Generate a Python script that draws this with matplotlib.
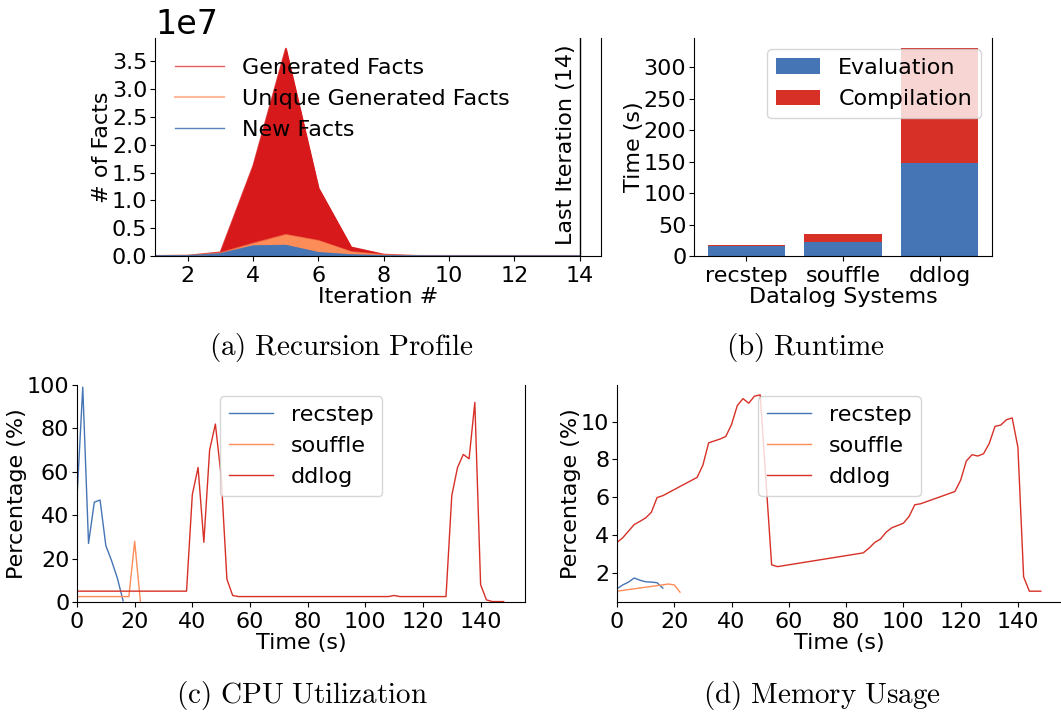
import matplotlib
matplotlib.use("Agg")
import matplotlib.pyplot as plt
from matplotlib.ticker import MultipleLocator

plt.rcParams['mathtext.fontset'] = 'cm'
plt.rcParams['font.size'] = 16
plt.rcParams['ytick.major.pad'] = 2

# (a) recursion profile
iters = [1, 2, 3, 4, 5, 6, 7, 8, 9, 10, 11, 12, 13, 14]
generated = [0.004, 0.01, 0.07, 1.62, 3.73, 1.22, 0.16, 0.03, 0.005, 0.004, 0.003, 0.003, 0.003, 0.003]
unique = [0.003, 0.006, 0.05, 0.22, 0.377, 0.27, 0.07, 0.015, 0.003, 0.002, 0.002, 0.002, 0.002, 0.002]
new = [0.003, 0.005, 0.04, 0.18, 0.19, 0.06, 0.02, 0.005, 0.002, 0.001, 0.001, 0.001, 0.001, 0.001]
last_iter = 14

# (b) runtime
systems = ['recstep', 'souffle', 'ddlog']
evaluation = [16, 22, 148]
compilation = [2, 13, 182]

# (c) cpu utilization
cpu_recstep_t = [0, 2, 4, 6, 8, 10, 12, 14, 16]
cpu_recstep = [48, 99, 27, 46, 47, 26, 19, 11, 0.5]
cpu_souffle_t = [0, 18, 20, 22]
cpu_souffle = [2.5, 2.5, 28, 0]
cpu_ddlog_t = [0, 38, 40, 42, 44, 46, 48, 50, 52, 54, 56, 108, 110, 112, 128,
               130, 132, 134, 136, 138, 140, 142, 144, 146, 148]
cpu_ddlog = [5, 5, 49.5, 62, 27.5, 70, 82, 58, 10.5, 3, 2.5, 2.5, 3.0, 2.5, 2.5,
             49, 62, 68, 66, 92, 8, 1, 0.2, 0.2, 0.2]

# (d) memory usage
mem_recstep_t = [0, 2, 4, 6, 8, 10, 12, 14, 16]
mem_recstep = [1.15, 1.35, 1.5, 1.72, 1.6, 1.52, 1.5, 1.47, 1.18]
mem_souffle_t = [0, 18, 20, 22]
mem_souffle = [1.02, 1.4, 1.35, 0.97]
mem_ddlog_t = [0, 2, 4, 6, 8, 10, 12, 14, 16, 28, 30, 32, 34, 36, 38, 40, 42, 44, 46, 48, 50,
               54, 56, 86, 88, 90, 92, 94, 96, 98, 100, 102, 104, 106, 118, 120, 122, 124,
               126, 128, 130, 132, 134, 136, 138, 140, 142, 144, 146, 148]
mem_ddlog = [3.6, 3.85, 4.2, 4.55, 4.72, 4.9, 5.2, 5.98, 6.08, 7.05, 7.7, 8.88, 8.98, 9.08,
             9.22, 9.85, 10.85, 11.22, 10.98, 11.35, 11.42, 2.42, 2.32, 3.05, 3.3, 3.6, 3.78,
             4.15, 4.38, 4.5, 4.62, 4.98, 5.6, 5.65, 6.3, 6.9, 7.92, 8.25, 8.18, 8.3, 8.85,
             9.75, 9.82, 10.1, 10.2, 8.65, 1.78, 1.02, 1.02, 1.02]

BLUE = '#4575b4'
ORANGE = '#fc8d59'
RED = '#d7191c'
RED2 = '#d73027'

W, H = 1061, 713
fig = plt.figure(figsize=(W / 100, H / 100), dpi=100)


def box(x0, x1, y0, y1):
    return [x0 / W, 1 - y1 / H, (x1 - x0) / W, (y1 - y0) / H]


def style(ax, xstep, ystep):
    ax.spines['top'].set_visible(False)
    ax.xaxis.set_major_locator(MultipleLocator(xstep))
    ax.yaxis.set_major_locator(MultipleLocator(ystep))


# (a)
ax = fig.add_axes(box(155, 601, 38, 256))
s = [v * 1e7 for v in generated]
u = [v * 1e7 for v in unique]
n = [v * 1e7 for v in new]
ax.plot(iters, s, color=RED, alpha=0.7, lw=1, label='Generated Facts')
ax.plot(iters, u, color=ORANGE, alpha=0.6, lw=1.5, label='Unique Generated Facts')
ax.plot(iters, n, color=BLUE, alpha=0.9, lw=1, label='New Facts')
ax.fill_between(iters, s, color=RED)
ax.fill_between(iters, u, color=ORANGE)
ax.fill_between(iters, n, color=BLUE)
ax.axvline(last_iter, color='black', lw=1)
ax.text(last_iter - 0.12, 0.51, 'Last Iteration (%d)' % last_iter, rotation=90,
        ha='right', va='center', transform=ax.get_xaxis_transform())
ax.set_xlim(1, 14.65)
ax.set_ylim(0, None)
style(ax, 2, 0.5e7)
ax.yaxis.get_offset_text().set_fontsize(24)
ax.set_xlabel('Iteration #', labelpad=1)
ax.set_ylabel('# of Facts', labelpad=0)
ax.legend(loc='upper left', frameon=False, handlelength=2.2, borderaxespad=0.5)

# (b)
ax = fig.add_axes(box(694, 992, 38, 256))
ax.bar(systems, evaluation, width=0.8, color=BLUE, label='Evaluation')
ax.bar(systems, compilation, width=0.8, bottom=evaluation, color=RED2, label='Compilation')
style(ax, 1, 50)
ax.set_xlabel('Datalog Systems', labelpad=1)
ax.set_ylabel('Time (s)', labelpad=0)
ax.legend(loc='upper right')

# (c)
ax = fig.add_axes(box(77, 525, 385, 602))
ax.plot(cpu_recstep_t, cpu_recstep, color=BLUE, lw=1, label='recstep')
ax.plot(cpu_souffle_t, cpu_souffle, color=ORANGE, lw=1, label='souffle')
ax.plot(cpu_ddlog_t, cpu_ddlog, color=RED2, lw=1, label='ddlog')
ax.set_xlim(0, None)
ax.set_ylim(0, 100)
style(ax, 20, 20)
ax.set_xlabel('Time (s)', labelpad=1)
ax.set_ylabel('Percentage (%)', labelpad=0)
ax.legend(loc='upper center')

# (d)
ax = fig.add_axes(box(617, 1062, 385, 602))
ax.plot(mem_recstep_t, mem_recstep, color=BLUE, lw=1, label='recstep')
ax.plot(mem_souffle_t, mem_souffle, color=ORANGE, lw=1, label='souffle')
ax.plot(mem_ddlog_t, mem_ddlog, color=RED2, lw=1, label='ddlog')
ax.set_xlim(0, None)
style(ax, 20, 2)
ax.set_xlabel('Time (s)', labelpad=1)
ax.set_ylabel('Percentage (%)', labelpad=0)
ax.legend(loc='upper center')

captions = [(341, 348, r'$\mathrm{(a)\ Recursion\ Profile}$'),
            (806, 348, r'$\mathrm{(b)\ Runtime}$'),
            (302, 695, r'$\mathrm{(c)\ CPU\ Utilization}$'),
            (822, 695, r'$\mathrm{(d)\ Memory\ Usage}$')]
for cx, cy, txt in captions:
    fig.text(cx / W, 1 - cy / H, txt, ha='center', va='center', fontsize=21)

fig.savefig('out.png', dpi=100)
